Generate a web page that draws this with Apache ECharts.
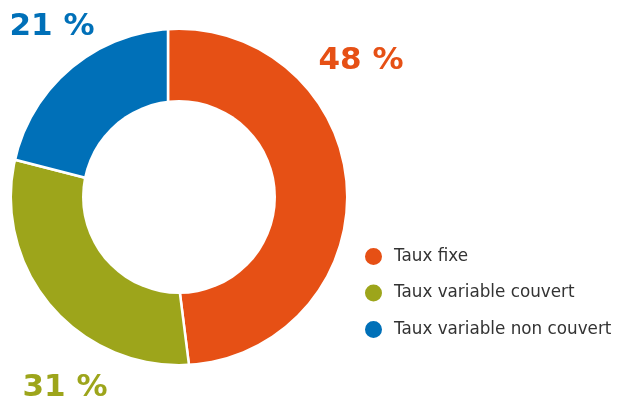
<!DOCTYPE html>
<html>
<head>
<meta charset="utf-8">
<script src="https://cdn.jsdelivr.net/npm/echarts@6/dist/echarts.min.js"></script>
<style>
  html, body { margin: 0; padding: 0; background: #fff; }
  #chart { width: 627px; height: 400px; }
</style>
</head>
<body>
<div id="chart"></div>
<script>
  var categories = ['Taux fixe', 'Taux variable couvert', 'Taux variable non couvert'];
  var values = [48, 31, 21];
  var colors = ['#e65015', '#9da51b', '#0070b8'];
  // where each percent label sits (manual layout, like the original)
  var labelPos = [[361, 61], [65, 388], [52, 27]];

  var chart = echarts.init(document.getElementById('chart'));

  var labels = values.map(function (v, i) {
    return {
      type: 'text',
      x: labelPos[i][0],
      y: labelPos[i][1],
      z: 20,
      style: {
        text: v + ' %',
        fill: colors[i],
        font: 'bold 31px "DejaVu Sans"',
        textAlign: 'center',
        textVerticalAlign: 'middle'
      }
    };
  });

  // in the original the slice edges meet a bit left of the ring centre,
  // so the slices are drawn as a full pie and trimmed to the ring with white
  var ringMask = [
    { type: 'ring', z: 5, silent: true, shape: { cx: 179, cy: 197, r0: 167, r: 260 }, style: { fill: '#fff' } },
    { type: 'circle', z: 5, silent: true, shape: { cx: 179, cy: 197, r: 97 }, style: { fill: '#fff' } }
  ];

  var option = {
    color: colors,
    animation: false,
    legend: {
      orient: 'vertical',
      left: 358,
      top: 241,
      z: 20,
      icon: 'circle',
      itemWidth: 19,
      itemHeight: 19,
      itemGap: 15.5,
      selectedMode: false,
      data: categories,
      textStyle: {
        fontFamily: '"DejaVu Sans"',
        fontSize: 16.8,
        lineHeight: 19,
        color: '#333',
        padding: [0, 0, 0, 6]
      }
    },
    graphic: ringMask.concat(labels),
    series: [{
      type: 'pie',
      center: [168, 199],
      radius: [0, 195],
      startAngle: 90,
      clockwise: true,
      label: { show: false },
      labelLine: { show: false },
      emphasis: { disabled: true },
      itemStyle: { borderColor: '#fff', borderWidth: 2.5 },
      data: categories.map(function (c, i) {
        return { name: c, value: values[i] };
      })
    }]
  };

  chart.setOption(option);
</script>
</body>
</html>
